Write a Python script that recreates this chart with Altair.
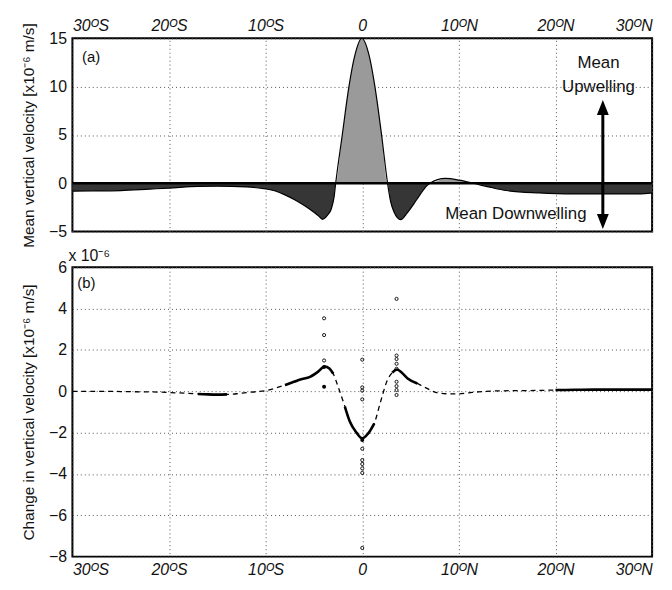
import altair as alt
import pandas as pd

# ---------------- data ----------------
# Panel (a): mean vertical velocity [1e-6 m/s] vs latitude
lat_a = [-30, -28, -25, -22, -20, -17, -15, -12, -10, -9, -8, -7, -6, -5, -4.5,
         -4.12, -3.6, -3.2, -2.9, -2.75, -2.07, -1.38, -0.8, -0.05, 0.74, 1.31,
         2.0, 2.62, 2.95, 3.3, 3.98, 4.7, 5.7, 6.7, 7.0, 8.6, 10, 11.5, 13.2,
         14.9, 18.3, 21.8, 25.2, 28.6, 30]
w_mean = [-0.82, -0.8, -0.75, -0.6, -0.5, -0.32, -0.3, -0.38, -0.58, -0.8, -1.2,
          -1.7, -2.3, -3.0, -3.4, -3.73, -3.3, -2.64, -1.3, 0.0, 5.0, 10.0, 13.1,
          15.0, 13.1, 10.0, 5.0, 0.0, -1.95, -3.0, -3.77, -3.0, -1.6, -0.24, 0.0,
          0.5, 0.33, 0.0, -0.4, -0.75, -1.0, -1.1, -1.1, -1.1, -1.0]

# Panel (b): change in vertical velocity [1e-6 m/s] vs latitude
lat_b = [-30, -27, -24, -21, -19, -17, -16, -15, -14, -13, -12, -11, -10, -9, -8,
         -7, -6.4, -5.4, -4.6, -3.9, -3.4, -3.0, -2.5, -1.8, -1.3, -0.6, 0, 0.6,
         1.25, 1.9, 2.6, 3.1, 3.6, 4.1, 4.7, 5.7, 6.7, 7.7, 8.7, 9.8, 11, 12, 14,
         16, 18, 20, 22, 24, 26, 28, 30]
dw = [0.0, 0.0, -0.02, -0.04, -0.08, -0.13, -0.15, -0.16, -0.15, -0.12, -0.06,
      -0.02, 0.03, 0.15, 0.3, 0.47, 0.57, 0.7, 0.94, 1.2, 1.1, 0.85, 0.22, -0.74,
      -1.45, -2.0, -2.28, -2.05, -1.55, -0.5, 0.54, 0.9, 1.05, 0.9, 0.62, 0.38,
      0.14, -0.07, -0.12, -0.13, -0.08, -0.03, 0.02, 0.03, 0.04, 0.06, 0.07,
      0.08, 0.08, 0.08, 0.08]
# latitude ranges where the curve is drawn solid (dense members)
solid_ranges = [(-17.2, -13.5), (-8.2, -3.0), (-1.9, 1.3), (3.0, 5.8), (20, 30)]

# individual ensemble members (open circles) and overlapping ones (filled)
open_lat = [-3.95, -3.95, -3.95,
            0, 0, 0, 0, 0, 0, 0, 0, 0, 0,
            3.55, 3.55, 3.55, 3.55, 3.55, 3.55, 3.55, 3.55, 3.55]
open_val = [3.53, 2.72, 1.49,
            1.53, 0.19, 0.03, -0.39, -2.78, -3.33, -3.52, -3.73, -3.95, -7.58,
            4.47, 1.73, 1.56, 1.33, 1.09, 0.46, 0.25, 0.06, -0.18]
fill_lat = [-3.95, -3.95, 0]
fill_val = [1.17, 0.22, -2.36]

x_ticks = [-30, -20, -10, 0, 10, 20, 30]
ya_ticks = [-5, 0, 5, 10, 15]
yb_ticks = [-8, -6, -4, -2, 0, 2, 4, 6]

# ---------------- styling ----------------
FONT = "Liberation Sans"
W = 585
HA = 195
HB = 292
LAB = 16
lab = ("datum.value < 0 ? (-datum.value) + 'ᴼS' : "
       "(datum.value > 0 ? datum.value + 'ᴼN' : '0')")

grid_kw = dict(grid=True, gridColor="#555555", gridDash=[1, 3], gridWidth=1,
               domain=False, ticks=False)

xscale = alt.Scale(domain=[-30, 30], nice=False, zero=False)

# ---------------- panel (a) ----------------
dfa = pd.DataFrame({"lat": lat_a, "w": w_mean})
xa = alt.X("lat:Q", scale=xscale,
           axis=alt.Axis(orient="top", values=x_ticks, labelExpr=lab,
                         labelFontStyle="italic", labelFontSize=LAB,
                         labelPadding=5, title=None, **grid_kw))
ya_scale = alt.Scale(domain=[-5, 15], nice=False, zero=False)
ya_axis = alt.Axis(values=ya_ticks, labelFontSize=LAB, labelPadding=6,
                   title="Mean vertical velocity [x10⁻⁶ m/s]", titleFontSize=15.5,
                   titleFontWeight="normal", titlePadding=12, **grid_kw)

base_a = alt.Chart(dfa).transform_calculate(
    pos="max(datum.w, 0)", neg="min(datum.w, 0)")
area_pos = base_a.mark_area(color="#9a9a9a", interpolate="monotone").encode(
    x=xa, y=alt.Y("pos:Q", scale=ya_scale, axis=ya_axis), y2=alt.datum(0))
area_neg = base_a.mark_area(color="#363636", interpolate="monotone").encode(
    x=alt.X("lat:Q"), y=alt.Y("neg:Q"), y2=alt.datum(0))
line_a = base_a.mark_line(color="black", strokeWidth=1.2,
                          interpolate="monotone").encode(
    x=alt.X("lat:Q"), y=alt.Y("w:Q"))
zero_a = alt.Chart(pd.DataFrame({"z": [0]})).mark_rule(
    color="black", strokeWidth=2.5).encode(y=alt.Y("z:Q"))

ann_txt = pd.DataFrame({"lat": [24.45, 24.45, 15.9],
                        "v": [12.4, 10.0, -3.15],
                        "t": ["Mean", "Upwelling", "Mean Downwelling"]})
ann_a = alt.Chart(ann_txt).mark_text(font=FONT, fontSize=17, color="#111111",
                                     baseline="middle", align="center").encode(
    x="lat:Q", y="v:Q", text="t:N")
arrow_line = alt.Chart(pd.DataFrame({"lat": [24.9], "v1": [7.6], "v2": [-3.6]})
                       ).mark_rule(color="black", strokeWidth=3).encode(
    x="lat:Q", y="v1:Q", y2="v2:Q")
head_up = alt.Chart(pd.DataFrame({"lat": [24.9], "v": [7.85]})).mark_point(
    shape="M0,-1L0.8,1L-0.8,1Z", filled=True, color="black", opacity=1,
    size=225).encode(x="lat:Q", y="v:Q")
head_dn = alt.Chart(pd.DataFrame({"lat": [24.9], "v": [-3.95]})).mark_point(
    shape="M0,1L0.8,-1L-0.8,-1Z", filled=True, color="black", opacity=1,
    size=225).encode(x="lat:Q", y="v:Q")
lab_a = alt.Chart(pd.DataFrame({"lat": [-29.0], "v": [13.06], "t": ["(a)"]})
                  ).mark_text(font=FONT, fontSize=15, align="left",
                              baseline="middle", color="#111111").encode(
    x="lat:Q", y="v:Q", text="t:N")

panel_a = alt.layer(area_pos, area_neg, line_a, zero_a, arrow_line, head_up,
                    head_dn, ann_a, lab_a).properties(width=W, height=HA)

# ---------------- panel (b) ----------------
dfb = pd.DataFrame({"lat": lat_b, "dw": dw})
seg_rows = []
for i, (lo, hi) in enumerate(solid_ranges):
    for la, v in zip(lat_b, dw):
        if lo <= la <= hi:
            seg_rows.append({"lat": la, "dw": v, "seg": i})
dfs = pd.DataFrame(seg_rows)

xb = alt.X("lat:Q", scale=xscale,
           axis=alt.Axis(orient="bottom", values=x_ticks, labelExpr=lab,
                         labelFontStyle="italic", labelFontSize=LAB,
                         labelPadding=5, title=None, **grid_kw))
yb_scale = alt.Scale(domain=[-8, 6], nice=False, zero=False)
yb_axis = alt.Axis(values=yb_ticks, labelFontSize=LAB, labelPadding=6,
                   title="Change in vertical velocity [x10⁻⁶ m/s]",
                   titleFontSize=15.5, titleFontWeight="normal", titlePadding=12,
                   **grid_kw)

dash_b = alt.Chart(dfb).mark_line(color="black", strokeWidth=1.3,
                                  strokeDash=[5, 4],
                                  interpolate="monotone").encode(
    x=xb, y=alt.Y("dw:Q", scale=yb_scale, axis=yb_axis))
solid_b = alt.Chart(dfs).mark_line(color="black", strokeWidth=2.6,
                                   interpolate="monotone").encode(
    x=alt.X("lat:Q"), y=alt.Y("dw:Q"), detail="seg:N")
open_b = alt.Chart(pd.DataFrame({"lat": open_lat, "dw": open_val})).mark_point(
    shape="circle", filled=False, color="black", size=10, strokeWidth=0.9,
    opacity=1).encode(x="lat:Q", y="dw:Q")
fill_b = alt.Chart(pd.DataFrame({"lat": fill_lat, "dw": fill_val})).mark_point(
    shape="circle", filled=True, color="black", size=16, opacity=1).encode(
    x="lat:Q", y="dw:Q")
lab_b = alt.Chart(pd.DataFrame({"lat": [-29.5], "v": [5.25], "t": ["(b)"]})
                  ).mark_text(font=FONT, fontSize=15, align="left",
                              baseline="middle", color="#111111").encode(
    x="lat:Q", y="v:Q", text="t:N")

panel_b = alt.layer(dash_b, solid_b, open_b, fill_b, lab_b).properties(
    width=W, height=HB,
    title=alt.TitleParams("x 10⁻⁶", anchor="start", frame="group",
                          fontSize=16, fontWeight="normal", font=FONT,
                          color="#111111", offset=0, dx=-4, dy=5))

chart = alt.vconcat(panel_a, panel_b, spacing=36, bounds="flush").properties(
    padding={"left": 12, "top": 6, "right": 5, "bottom": 5}
).configure(font=FONT).configure_view(
    stroke="black", strokeWidth=2
).configure_axis(labelColor="#111111", titleColor="#111111", labelFont=FONT,
                 titleFont=FONT)

chart.save("out.html", embed_options={"renderer": "svg", "actions": False})
